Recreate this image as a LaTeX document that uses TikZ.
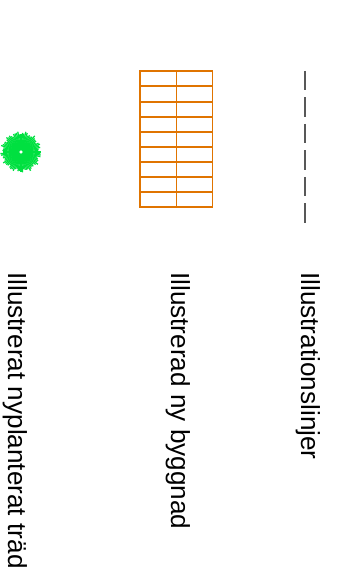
\documentclass[tikz,border=0pt]{standalone}
\usepackage{fontspec}
\setmainfont{Liberation Sans}
\definecolor{byggnad}{HTML}{E07400}
\definecolor{trad}{HTML}{00E040}
\definecolor{linje}{HTML}{585858}
\tikzset{
    legendtext/.style={rotate=-90, anchor=base west, inner sep=0pt, font=\fontsize{19.6pt}{23pt}\selectfont},
    wall/.style={draw=byggnad, line width=1.25pt},
    spoke/.style={draw=trad, line width=0.95pt}
}
\begin{document}
\begin{tikzpicture}[x=0.75pt, y=-0.75pt]
        \useasboundingbox (0, 0) rectangle (344, 573);
        % Illustration lines
        \foreach \ystart in {71, 97.5, 124, 150.5, 177, 203.5} {
            \draw[linje, line width=1.2pt] (305, \ystart) -- (305, \ystart+19.5);
        }
        \node[legendtext] (linjer) at (301.5, 272) {Illustrationslinjer};
        % New building
        \draw[wall] (140, 71) rectangle (212.5, 207);
        \draw[wall] (176.5, 71) -- (176.5, 207);
        \foreach \row in {86, 102, 117, 132, 147, 162, 177, 192} {
            \draw[wall] (140, \row) -- (212.5, \row);
        }
        \node[legendtext] (byggnad) at (171, 272) {Illustrerad ny byggnad};
        % New tree
        \foreach \ang in {0, 4.5, ..., 356} {
            \pgfmathsetmacro{\reach}{17+1.2*sin(13*\ang)+1*cos(29*\ang)}
            \draw[spoke] (21, 152) ++(\ang:2) -- ++(\ang:\reach);
        }
        \node[legendtext] (trad) at (8, 272) {Illustrerat nyplanterat träd};
    \end{tikzpicture}
\end{document}
